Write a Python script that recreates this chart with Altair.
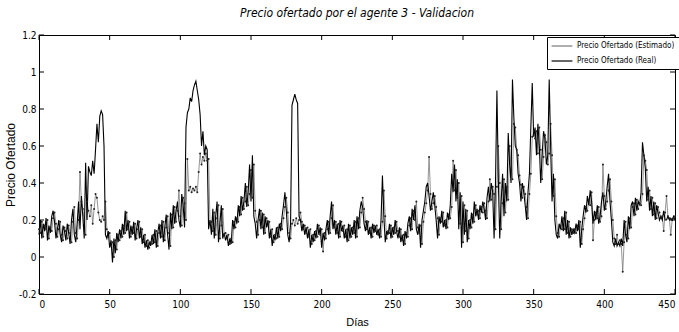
import altair as alt
import pandas as pd

days = list(range(451))

real = [
    0.12, 0.2, 0.1, 0.18, 0.14, 0.21, 0.09, 0.17, 0.13, 0.22,
    0.25, 0.19, 0.1, 0.15, 0.2, 0.12, 0.08, 0.17, 0.14, 0.09,
    0.18, 0.13, 0.07, 0.2, 0.26, 0.12, 0.08, 0.18, 0.3, 0.15,
    0.33, 0.22, 0.1, 0.51, 0.2, 0.49, 0.46, 0.44, 0.52, 0.45,
    0.58, 0.72, 0.62, 0.76, 0.79, 0.77, 0.6, 0.12, 0.1, 0.14,
    0.05, 0.09, -0.03, 0.1, 0.02, 0.13, 0.08, 0.15, 0.1, 0.18,
    0.12, 0.25, 0.14, 0.2, 0.1, 0.17, 0.12, 0.19, 0.09, 0.15,
    0.2, 0.1, 0.16, 0.07, 0.12, 0.05, 0.09, 0.04, 0.08, 0.06,
    0.12, 0.07, 0.15, 0.05, 0.13, 0.18, 0.1, 0.2, 0.08, 0.16,
    0.23, 0.12, 0.04, 0.24, 0.15, 0.28, 0.18, 0.25, 0.3, 0.2,
    0.16, 0.34, 0.28, 0.16, 0.7, 0.78, 0.8, 0.86, 0.84, 0.9,
    0.93, 0.95, 0.9, 0.85, 0.77, 0.6, 0.68, 0.55, 0.6, 0.58,
    0.15, 0.2, 0.12, 0.26, 0.1, 0.22, 0.3, 0.08, 0.18, 0.28,
    0.1, 0.13, 0.09, 0.12, 0.06, 0.1, 0.07, 0.2, 0.15, 0.22,
    0.18, 0.28, 0.22, 0.33, 0.25, 0.3, 0.4, 0.27, 0.35, 0.5,
    0.3, 0.55, 0.22, 0.18, 0.1, 0.2, 0.26, 0.15, 0.24, 0.12,
    0.22, 0.16, 0.2, 0.1, 0.15, 0.06, 0.12, 0.09, 0.16, 0.1,
    0.18, 0.14, 0.22, 0.28, 0.35, 0.25, 0.12, 0.08, 0.18, 0.82,
    0.85, 0.88, 0.85, 0.83, 0.22, 0.2, 0.14, 0.18, 0.12, 0.16,
    0.1, 0.15, 0.05, 0.12, 0.08, 0.14, 0.1, 0.18, 0.12, 0.16,
    0.05, 0.13, 0.09, 0.15, 0.2, 0.12, 0.22, 0.3, 0.15, 0.2,
    0.12, 0.18, 0.1, 0.2, 0.14, 0.17, 0.1, 0.15, 0.08, 0.18,
    0.1, 0.16, 0.12, 0.2, 0.1, 0.22, 0.15, 0.25, 0.3, 0.27,
    0.18, 0.14, 0.2, 0.12, 0.16, 0.1, 0.18, 0.13, 0.17, 0.12,
    0.15, 0.1, 0.2, 0.44, 0.22, 0.08, 0.14, 0.12, 0.18, 0.1,
    0.16, 0.12, 0.2, 0.14, 0.1, 0.16, 0.08, 0.12, 0.06, 0.14,
    0.1, 0.18, 0.22, 0.14, 0.26, 0.2, 0.28, 0.15, 0.12, 0.18,
    0.05, 0.2, 0.25, 0.3, 0.38, 0.4, 0.33, 0.25, 0.3, 0.35,
    0.28, 0.2, 0.1, 0.22, 0.18, 0.25, 0.16, 0.2, 0.15, 0.24,
    0.2, 0.28, 0.45, 0.35, 0.5, 0.3, 0.42, 0.15, 0.35, 0.05,
    0.3, 0.12, 0.26, 0.08, 0.2, 0.15, 0.24, 0.18, 0.3, 0.22,
    0.26, 0.2, 0.28, 0.24, 0.3, 0.26, 0.2, 0.32, 0.38, 0.3,
    0.4, 0.35, 0.1, 0.4, 0.9, 0.42, 0.1, 0.3, 0.45, 0.22,
    0.4, 0.3, 0.67, 0.5, 0.4, 0.96, 0.75, 0.6, 0.58, 0.45,
    0.4, 0.3, 0.4, 0.35, 0.28, 0.2, 0.35, 0.45, 0.7, 0.94,
    0.65, 0.7, 0.55, 0.72, 0.6, 0.4, 0.55, 0.68, 0.64, 0.5,
    0.55, 0.96, 0.6, 0.3, 0.45, 0.2, 0.12, 0.1, 0.18, 0.15,
    0.22, 0.14, 0.25, 0.12, 0.2, 0.1, 0.16, 0.12, 0.15, 0.13,
    0.18, 0.14, 0.2, 0.05, 0.15, 0.22, 0.28, 0.24, 0.33, 0.28,
    0.36, 0.3, 0.18, 0.25, 0.2, 0.28, 0.18, 0.22, 0.3, 0.35,
    0.25, 0.3, 0.38, 0.45, 0.3, 0.2, 0.08, 0.06, 0.1, 0.06,
    0.08, 0.06, 0.1, 0.06, 0.2, 0.12, 0.08, 0.22, 0.15, 0.28,
    0.3, 0.22, 0.32, 0.25, 0.3, 0.28, 0.35, 0.62, 0.55, 0.48,
    0.3, 0.38, 0.25, 0.33, 0.22, 0.3, 0.2, 0.28, 0.24, 0.2,
    0.22, 0.2, 0.25, 0.2, 0.2, 0.22, 0.2, 0.21, 0.2, 0.22,
    0.2,
]

est = [
    0.15, 0.13, 0.19, 0.11, 0.17, 0.15, 0.2, 0.1, 0.16, 0.14,
    0.21, 0.24, 0.18, 0.11, 0.15, 0.19, 0.12, 0.09, 0.16, 0.14,
    0.1, 0.17, 0.13, 0.08, 0.19, 0.27, 0.13, 0.1, 0.2, 0.46,
    0.3, 0.26, 0.2, 0.12, 0.3, 0.25, 0.22, 0.28, 0.18, 0.26,
    0.34, 0.32, 0.24, 0.2, 0.19, 0.22, 0.2, 0.3, 0.15, 0.11,
    0.13, 0.06, 0.08, 0.0, 0.09, 0.04, 0.12, 0.09, 0.14, 0.11,
    0.17, 0.13, 0.24, 0.15, 0.19, 0.11, 0.16, 0.13, 0.18, 0.1,
    0.15, 0.19, 0.11, 0.15, 0.08, 0.12, 0.06, 0.09, 0.05, 0.08,
    0.07, 0.12, 0.08, 0.14, 0.06, 0.13, 0.17, 0.11, 0.19, 0.09,
    0.16, 0.22, 0.13, 0.06, 0.23, 0.16, 0.27, 0.19, 0.25, 0.36,
    0.22, 0.17, 0.32, 0.29, 0.2, 0.53, 0.36, 0.38, 0.35, 0.37,
    0.36, 0.38, 0.35, 0.46, 0.56, 0.5, 0.54, 0.52, 0.56, 0.52,
    0.53, 0.18, 0.19, 0.14, 0.24, 0.12, 0.21, 0.28, 0.1, 0.17,
    0.26, 0.12, 0.13, 0.1, 0.12, 0.07, 0.1, 0.08, 0.19, 0.16,
    0.21, 0.19, 0.27, 0.23, 0.32, 0.26, 0.3, 0.38, 0.28, 0.34,
    0.47, 0.32, 0.5, 0.25, 0.19, 0.12, 0.2, 0.25, 0.16, 0.23,
    0.13, 0.21, 0.17, 0.19, 0.11, 0.15, 0.08, 0.12, 0.1, 0.16,
    0.11, 0.18, 0.15, 0.21, 0.27, 0.32, 0.24, 0.13, 0.1, 0.18,
    0.2, 0.17, 0.21, 0.18, 0.2, 0.24, 0.19, 0.15, 0.17, 0.13,
    0.16, 0.11, 0.15, 0.07, 0.12, 0.09, 0.14, 0.11, 0.17, 0.12,
    0.15, 0.03, 0.13, 0.1, 0.15, 0.19, 0.13, 0.21, 0.28, 0.16,
    0.19, 0.13, 0.18, 0.11, 0.19, 0.14, 0.17, 0.11, 0.15, 0.09,
    0.17, 0.11, 0.16, 0.13, 0.19, 0.11, 0.21, 0.16, 0.24, 0.32,
    0.26, 0.19, 0.15, 0.19, 0.13, 0.16, 0.11, 0.17, 0.14, 0.17,
    0.12, 0.15, 0.11, 0.19, 0.36, 0.22, 0.1, 0.14, 0.13, 0.17,
    0.11, 0.16, 0.13, 0.19, 0.14, 0.11, 0.15, 0.09, 0.12, 0.07,
    0.13, 0.11, 0.17, 0.21, 0.15, 0.25, 0.2, 0.3, 0.16, 0.13,
    0.17, 0.07, 0.19, 0.24, 0.29, 0.36, 0.54, 0.34, 0.26, 0.29,
    0.33, 0.27, 0.21, 0.12, 0.21, 0.19, 0.24, 0.17, 0.2, 0.16,
    0.23, 0.21, 0.27, 0.52, 0.36, 0.47, 0.32, 0.4, 0.18, 0.33,
    0.08, 0.28, 0.14, 0.25, 0.1, 0.2, 0.16, 0.23, 0.19, 0.28,
    0.23, 0.25, 0.21, 0.27, 0.24, 0.29, 0.25, 0.21, 0.3, 0.42,
    0.31, 0.38, 0.34, 0.15, 0.38, 0.6, 0.4, 0.15, 0.29, 0.42,
    0.24, 0.38, 0.31, 0.6, 0.48, 0.42, 0.72, 0.7, 0.58, 0.55,
    0.44, 0.39, 0.32, 0.38, 0.34, 0.27, 0.21, 0.34, 0.45, 0.65,
    0.68, 0.64, 0.68, 0.56, 0.7, 0.58, 0.42, 0.54, 0.66, 0.62,
    0.5, 0.56, 0.72, 0.55, 0.33, 0.42, 0.22, 0.13, 0.11, 0.17,
    0.15, 0.21, 0.15, 0.24, 0.13, 0.19, 0.11, 0.15, 0.13, 0.15,
    0.13, 0.17, 0.15, 0.19, 0.07, 0.15, 0.21, 0.27, 0.25, 0.31,
    0.28, 0.35, 0.09, 0.2, 0.24, 0.21, 0.27, 0.19, 0.22, 0.5,
    0.33, 0.26, 0.3, 0.36, 0.42, 0.3, 0.2, 0.1, 0.07, 0.12,
    0.07, 0.09, 0.07, -0.08, 0.08, 0.19, 0.12, 0.1, 0.21, 0.16,
    0.27, 0.29, 0.23, 0.31, 0.26, 0.29, 0.28, 0.34, 0.55, 0.52,
    0.47, 0.31, 0.36, 0.26, 0.32, 0.23, 0.29, 0.21, 0.27, 0.24,
    0.21, 0.22, 0.14, 0.24, 0.33, 0.22, 0.21, 0.12, 0.2, 0.21,
    0.22,
]

x_ticks = [0, 50, 100, 150, 200, 250, 300, 350, 400, 450]
y_ticks = [-0.2, 0, 0.2, 0.4, 0.6, 0.8, 1, 1.2]

S_EST = "Precio Ofertado (Estimado)"
S_REAL = "Precio Ofertado (Real)"

n = len(days)
df = pd.DataFrame({
    "dia": days + days,
    "valor": est + real,
    "serie": [S_EST] * n + [S_REAL] * n,
})
df_est = df[df["serie"] == S_EST]
df_real = df[df["serie"] == S_REAL]
xt = pd.DataFrame({"t": x_ticks})
yt = pd.DataFrame({"t": y_ticks})

W, H = 636, 259
NARROW = "Liberation Sans Narrow, Arial Narrow, DejaVu Sans Condensed, sans-serif"
REG = "Liberation Sans, Arial, sans-serif"

xscale = alt.Scale(domain=[0, 450], nice=False, zero=False)
yscale = alt.Scale(domain=[-0.2, 1.2], nice=False, zero=False)

ax_x = alt.Axis(
    values=x_ticks, title="Días", ticks=False, domain=False, grid=False,
    labelOverlap=False, labelPadding=5, titlePadding=7, labelFont=NARROW, labelFontSize=10,
    titleFont=REG, titleFontSize=11, titleFontWeight="normal",
    labelColor="black", titleColor="black")
ax_y = alt.Axis(
    values=y_ticks, labelExpr="'' + datum.value", title="Precio Ofertado",
    labelOverlap=False, ticks=False, domain=False, grid=False, labelPadding=3, titlePadding=1,
    labelFont=NARROW, labelFontSize=10, titleFont=REG, titleFontSize=12,
    titleFontWeight="normal", labelColor="black", titleColor="black")

x_enc = alt.X("dia:Q", scale=xscale, axis=ax_x)
y_enc = alt.Y("valor:Q", scale=yscale, axis=ax_y)

color = alt.Color("serie:N", scale=alt.Scale(domain=[S_EST, S_REAL], range=["#7a7a7a", "#000000"]),
                  legend=alt.Legend(title=None, orient="none", legendX=508, legendY=2,
                                    fillColor="white", strokeColor="black", padding=4,
                                    symbolType="M-2.6,0H2.6", symbolSize=64, symbolStrokeWidth=1.2,
                                    symbolOffset=6,
                                    labelFont="DejaVu Sans Condensed, sans-serif", labelFontSize=8,
                                    labelColor="black", rowPadding=6, labelOffset=10,
                                    labelLimit=200))

line_est = alt.Chart(df_est).mark_line(strokeWidth=0.8).encode(x=x_enc, y=y_enc, color=color)
line_real = alt.Chart(df_real).mark_line(strokeWidth=1.1).encode(x=x_enc, y=y_enc, color=color)
pts = alt.Chart(df_est).mark_circle(size=4, color="#222222", opacity=1).encode(x=x_enc, y=y_enc)

tk = 5
tb = alt.Chart(xt).mark_rule(color="black", strokeWidth=1).encode(
    x=alt.X("t:Q", scale=xscale, axis=ax_x), y=alt.value(H), y2=alt.value(H - tk))
tt = alt.Chart(xt).mark_rule(color="black", strokeWidth=1).encode(
    x=alt.X("t:Q", scale=xscale, axis=ax_x), y=alt.value(0), y2=alt.value(tk))
tl = alt.Chart(yt).mark_rule(color="black", strokeWidth=1).encode(
    y=alt.Y("t:Q", scale=yscale, axis=ax_y), x=alt.value(0), x2=alt.value(tk))
tr = alt.Chart(yt).mark_rule(color="black", strokeWidth=1).encode(
    y=alt.Y("t:Q", scale=yscale, axis=ax_y), x=alt.value(W), x2=alt.value(W - tk))

chart = alt.layer(line_est, line_real, pts, tb, tt, tl, tr).properties(
    width=W, height=H,
    autosize="none",
    padding={"left": 39, "top": 35, "right": 4, "bottom": 38},
    background="white",
    title=alt.TitleParams("Precio ofertado por el agente 3 - Validacion", font=NARROW,
                          fontSize=12, fontStyle="italic", fontWeight="normal",
                          anchor="middle", offset=10, color="black"),
).configure_view(stroke="black", strokeWidth=1).configure_axis(labelOverlap=False)

chart.save("out.html", embed_options={"renderer": "svg", "actions": False})
